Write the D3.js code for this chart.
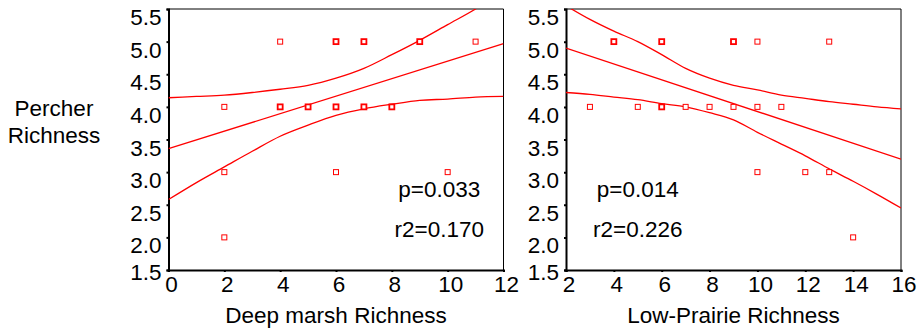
<!DOCTYPE html>
<html>
<head>
<meta charset="utf-8">
<script src="https://cdn.jsdelivr.net/npm/d3@7"></script>
<style>
  html, body { margin: 0; padding: 0; background: #fff; }
  svg text { font-family: "Liberation Sans", Arial, sans-serif; fill: #000; }
</style>
</head>
<body>
<svg id="chart" width="922" height="331"></svg>
<script>
// Percher richness against deep marsh and low-prairie richness
const yTicks = [1.5, 2.0, 2.5, 3.0, 3.5, 4.0, 4.5, 5.0, 5.5];

// Deep marsh panel
const marshX = [4, 6, 7, 9, 11, 2, 4, 5, 6, 7, 8, 2, 6, 10, 2];
const marshY = [5, 5, 5, 5, 5, 4, 4, 4, 4, 4, 4, 3, 3, 3, 2];
const marshN = [1, 2, 2, 2, 1, 1, 2, 2, 2, 2, 2, 1, 1, 1, 1];
const marshTicks = [0, 2, 4, 6, 8, 10, 12];
const marshFit = [3.36, 4.97];            // fitted value at x = 0 and x = 12
const marshBandX = [0, 1, 2, 3, 4, 5, 6, 7, 8, 9, 10, 11, 12];
const marshUpper = [4.14, 4.16, 4.18, 4.22, 4.27, 4.33, 4.44, 4.59, 4.80, 5.02, 5.26, 5.50, 5.78];
const marshLower = [2.58, 2.84, 3.08, 3.32, 3.55, 3.72, 3.87, 3.97, 4.04, 4.10, 4.12, 4.15, 4.16];
const marshStats = ["p=0.033", "r2=0.170"];

// Low-prairie panel
const prairieX = [4, 6, 9, 10, 13, 3, 5, 6, 7, 8, 9, 10, 11, 10, 12, 13, 14];
const prairieY = [5, 5, 5, 5, 5, 4, 4, 4, 4, 4, 4, 4, 4, 3, 3, 3, 2];
const prairieN = [2, 2, 2, 1, 1, 1, 1, 2, 1, 1, 1, 1, 1, 1, 1, 1, 1];
const prairieTicks = [2, 4, 6, 8, 10, 12, 14, 16];
const prairieFit = [4.90, 3.20];          // fitted value at x = 2 and x = 16
const prairieBandX = [2, 3, 4, 5, 6, 7, 8, 9, 10, 11, 12, 13, 14, 15, 16];
const prairieUpper = [5.55, 5.34, 5.16, 5.00, 4.80, 4.59, 4.44, 4.33, 4.26, 4.18, 4.13, 4.08, 4.04, 4.00, 3.97];
const prairieLower = [4.22, 4.19, 4.15, 4.11, 4.05, 4.00, 3.91, 3.80, 3.61, 3.43, 3.25, 3.05, 2.86, 2.66, 2.45];
const prairieStats = ["p=0.014", "r2=0.226"];

const svg = d3.select("#chart");
const RED = "#ff0000";
const FONT = 22.5;
const plotTop = 9, plotBottom = 270;

const y = d3.scaleLinear().domain([1.5, 5.5]).range([plotBottom, plotTop]);

// y-axis title shared by both panels
svg.append("text").attr("x", 54).attr("y", 116).attr("text-anchor", "middle")
  .attr("font-size", FONT).text("Percher");
svg.append("text").attr("x", 54).attr("y", 143).attr("text-anchor", "middle")
  .attr("font-size", FONT).text("Richness");

function panel(cfg) {
  const x = d3.scaleLinear().domain([cfg.ticks[0], cfg.ticks[cfg.ticks.length - 1]])
    .range([cfg.left, cfg.right]);
  const g = svg.append("g");

  const clipId = "clip-" + cfg.id;
  svg.append("clipPath").attr("id", clipId).append("rect")
    .attr("x", cfg.left).attr("y", plotTop)
    .attr("width", cfg.right - cfg.left).attr("height", plotBottom - plotTop);

  // frame: thin top/right border
  g.append("path")
    .attr("d", `M${cfg.left},${plotTop}H${cfg.right}V${plotBottom}`)
    .attr("fill", "none").attr("stroke", "#000").attr("stroke-width", 1);

  // axes
  const yAxis = g.append("g").attr("transform", `translate(${cfg.left},0)`)
    .call(d3.axisLeft(y).tickValues(yTicks).tickSize(2).tickFormat(""));
  const xAxis = g.append("g").attr("transform", `translate(0,${plotBottom})`)
    .call(d3.axisBottom(x).tickValues(cfg.ticks).tickSize(2).tickFormat(""));
  [yAxis, xAxis].forEach(a => {
    a.select(".domain").attr("stroke", "#000").attr("stroke-width", 2);
    a.selectAll(".tick line").attr("stroke", "#000").attr("stroke-width", 2);
  });

  // tick labels
  g.selectAll(".ylab").data(yTicks).join("text")
    .attr("x", cfg.left - 7)
    .attr("y", d => Math.min(y(d) + 16, 280))
    .attr("text-anchor", "end").attr("font-size", FONT)
    .text(d => d.toFixed(1));
  g.selectAll(".xlab").data(cfg.ticks).join("text")
    .attr("x", d => x(d) + 3).attr("y", 292)
    .attr("text-anchor", "middle").attr("font-size", FONT)
    .text(d => d);

  // x-axis title
  g.append("text").attr("x", (cfg.left + cfg.right) / 2).attr("y", 323)
    .attr("text-anchor", "middle").attr("font-size", FONT).text(cfg.title);

  // regression line and confidence band
  const plot = g.append("g").attr("clip-path", `url(#${clipId})`);
  const line = d3.line().x(d => x(d[0])).y(d => y(d[1]));
  const curve = d3.line().x(d => x(d[0])).y(d => y(d[1])).curve(d3.curveMonotoneX);
  const dom = x.domain();
  plot.append("path").datum([[dom[0], cfg.fit[0]], [dom[1], cfg.fit[1]]])
    .attr("d", line).attr("fill", "none").attr("stroke", RED).attr("stroke-width", 1.3);
  [cfg.upper, cfg.lower].forEach(band => {
    plot.append("path").datum(cfg.bandX.map((v, i) => [v, band[i]]))
      .attr("d", curve).attr("fill", "none").attr("stroke", RED).attr("stroke-width", 1.3);
  });

  // observations
  const s = 5;
  g.selectAll(".pt").data(cfg.xs.map((v, i) => ({ x: v, y: cfg.ys[i], n: cfg.ns[i] }))).join("rect")
    .attr("x", d => x(d.x) - s / 2).attr("y", d => y(d.y) - s / 2)
    .attr("width", s).attr("height", s)
    .attr("fill", "#fff").attr("stroke", RED)
    .attr("stroke-width", d => d.n > 1 ? 1.8 : 1);

  // test statistics
  g.append("text").attr("x", x(cfg.statX)).attr("y", 197).attr("text-anchor", "middle")
    .attr("font-size", FONT).text(cfg.stats[0]);
  g.append("text").attr("x", x(cfg.statX)).attr("y", 237).attr("text-anchor", "middle")
    .attr("font-size", FONT).text(cfg.stats[1]);
}

panel({
  id: "marsh", left: 168.5, right: 503.5, ticks: marshTicks,
  xs: marshX, ys: marshY, ns: marshN,
  fit: marshFit, bandX: marshBandX, upper: marshUpper, lower: marshLower,
  stats: marshStats, statX: 9.7, title: "Deep marsh Richness"
});
panel({
  id: "prairie", left: 566, right: 901, ticks: prairieTicks,
  xs: prairieX, ys: prairieY, ns: prairieN,
  fit: prairieFit, bandX: prairieBandX, upper: prairieUpper, lower: prairieLower,
  stats: prairieStats, statX: 5.0, title: "Low-Prairie Richness"
});
</script>
</body>
</html>
